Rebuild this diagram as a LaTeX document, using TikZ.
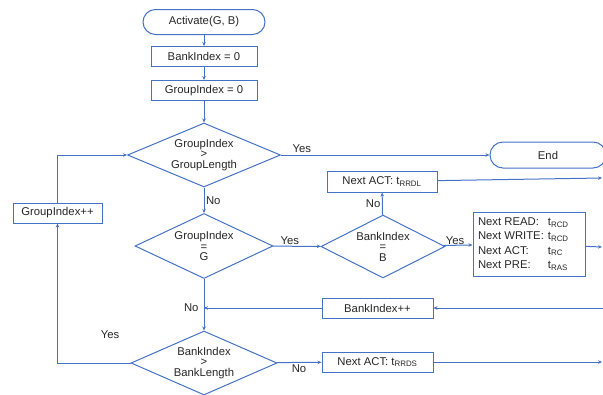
\documentclass[tikz,border=0pt]{standalone}
\usepackage{fontspec}
\setmainfont{Liberation Sans}
\usetikzlibrary{shapes.geometric,arrows.meta}
\definecolor{flowblue}{HTML}{4472C4}
\definecolor{flowtext}{HTML}{262626}

\begin{document}
\begin{tikzpicture}[x=1pt,y=-1pt,
        font=\fontsize{11.3}{13}\selectfont, text=flowtext,
        flow/.style={draw=flowblue,line width=1pt,-{Stealth[length=4pt,width=3.5pt]}},
        proc/.style={draw=flowblue,line width=1pt,rectangle,inner sep=0pt,minimum height=20pt},
        term/.style={draw=flowblue,line width=1pt,rectangle,rounded corners=12.5pt,minimum height=25pt},
        decide/.style={draw=flowblue,line width=1pt,diamond,shape aspect=2.3,inner sep=0pt,
            align=center,font=\fontsize{11.3}{10.5}\selectfont},
        lbl/.style={inner sep=1.5pt}]
    \useasboundingbox (0,0) rectangle (603,394);
    \clip (0,0) rectangle (603,394);
    % main column
    \node[term,minimum width=122pt] (start) at (204,22) {Activate(G, B)};
    \node[proc,minimum width=106pt] (bank0) at (204,56.5) {BankIndex = 0};
    \node[proc,minimum width=106pt] (group0) at (204,90.5) {GroupIndex = 0};
    \node[decide,minimum width=153pt,minimum height=64pt] (grpend) at (204,155) {GroupIndex\\>\\GroupLength};
    \node[decide,minimum width=138pt,minimum height=65pt] (grpeq) at (204,246) {GroupIndex\\=\\G};
    \node[decide,minimum width=146pt,minimum height=64pt] (bankend) at (204,363) {BankIndex\\>\\BankLength};
    \node[proc,minimum width=89pt] (grpinc) at (57.5,213) {GroupIndex++};
    % right side
    \node[term,minimum width=116pt,minimum height=26pt,rounded corners=13pt] (stop) at (548,155) {End};
    \node[proc,minimum width=110pt,minimum height=21pt] (rrdl) at (382,181.5) {Next ACT: t\textsubscript{RRDL}};
    \node[decide,minimum width=124pt,minimum height=63pt] (bankeq) at (383,246.5) {BankIndex\\=\\B};
    \node[proc,minimum width=112pt,minimum height=64pt,inner xsep=5pt] (timing) at (529,244)
        {\makebox[102pt][l]{\renewcommand{\arraystretch}{1.1}%
        \begin{tabular}{@{}l@{\hspace{4pt}}l@{}}
            Next READ: & t\textsubscript{RCD}\\
            Next WRITE: & t\textsubscript{RCD}\\
            Next ACT: & t\textsubscript{RC}\\
            Next PRE: & t\textsubscript{RAS}
        \end{tabular}}};
    \node[proc,minimum width=111pt] (bankinc) at (377.5,308) {BankIndex++};
    \node[proc,minimum width=111pt] (rrds) at (377.5,362) {Next ACT: t\textsubscript{RRDS}};
    % free ends at the edge
    \coordinate (outA) at (602,178);
    \coordinate (outB) at (602,247);
    \coordinate (inC) at (604,308);
    \coordinate (outD) at (602,362);
    \coordinate (join) at (204,308);
    % connectors
    \draw[flow] (start) -- (bank0);
    \draw[flow] (bank0) -- (group0);
    \draw[flow] (group0) -- (grpend);
    \draw[flow] (grpend) -- node[lbl,above,pos=0.1] {Yes} (stop);
    \draw[flow] (grpend) -- node[lbl,right] {No} (grpeq);
    \draw[flow] (grpeq) -- node[lbl,above,pos=0.35] {Yes} (bankeq);
    \draw[flow] (bankeq) -- node[lbl,left] {No} (rrdl);
    \draw[flow] (bankeq) -- node[inner sep=0.5pt,above,pos=0.4] {Yes} (timing);
    \draw[flow] (rrdl) -- (outA);
    \draw[flow] (timing) -- (outB);
    \draw[flow] (inC) -- (bankinc);
    \draw[flow] (bankinc) -- (join) node[left,inner sep=5pt] {No};
    \draw[flow] (grpeq) -- (bankend);
    \draw[flow] (bankend) -- node[lbl,below] {No} (rrds);
    \draw[flow] (rrds) -- (outD);
    \draw[flow] (bankend.west) -| (grpinc);
    \node[lbl] (yesbk) at (110,335) {Yes};
    \draw[flow] (grpinc) |- (grpend);
\end{tikzpicture}
\end{document}
